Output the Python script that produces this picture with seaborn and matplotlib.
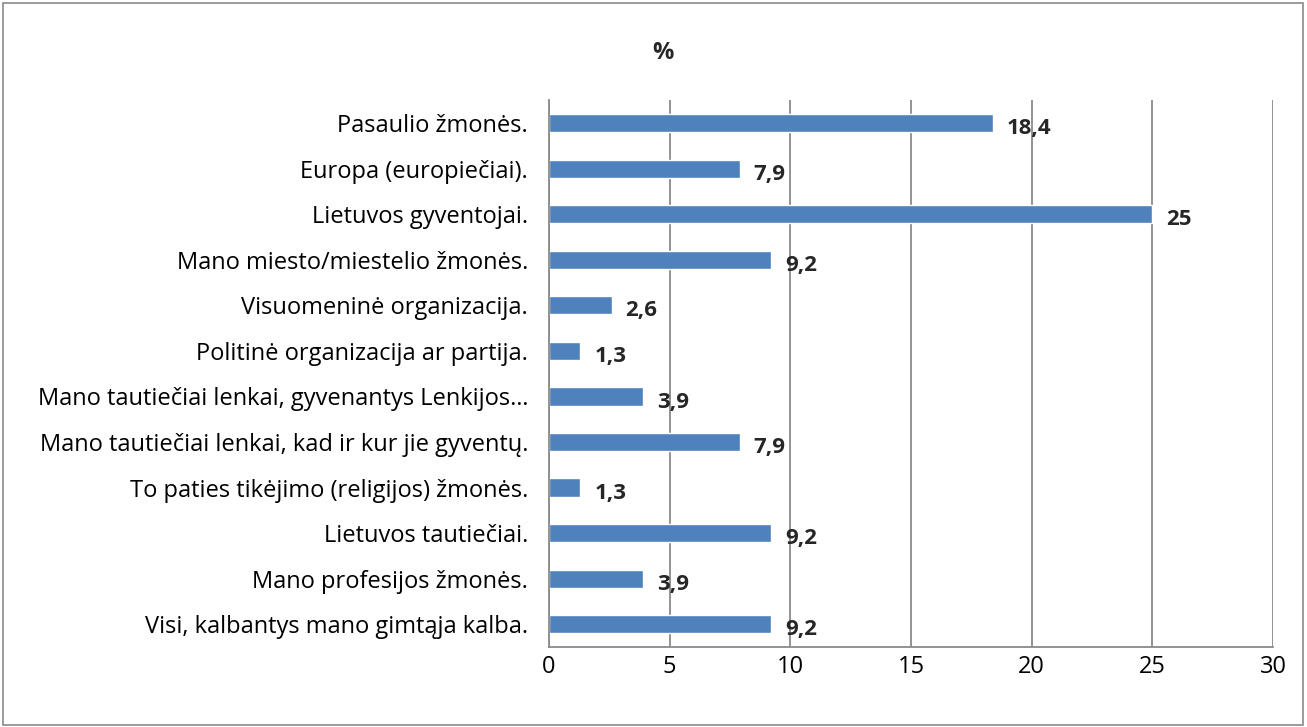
import pandas as pd
import matplotlib.pyplot as plt
import seaborn as sns
from matplotlib.patches import Rectangle

# data (top to bottom)
categories = [
    "Pasaulio žmonės.",
    "Europa (europiečiai).",
    "Lietuvos gyventojai.",
    "Mano miesto/miestelio žmonės.",
    "Visuomeninė organizacija.",
    "Politinė organizacija ar partija.",
    "Mano tautiečiai lenkai, gyvenantys Lenkijos…",
    "Mano tautiečiai lenkai, kad ir kur jie gyventų.",
    "To paties tikėjimo (religijos) žmonės.",
    "Lietuvos tautiečiai.",
    "Mano profesijos žmonės.",
    "Visi, kalbantys mano gimtąja kalba.",
]
values = [18.4, 7.9, 25, 9.2, 2.6, 1.3, 3.9, 7.9, 1.3, 9.2, 3.9, 9.2]
value_labels = ["18,4", "7,9", "25", "9,2", "2,6", "1,3", "3,9", "7,9", "1,3", "9,2", "3,9", "9,2"]

df = pd.DataFrame({"cat": categories, "val": values})

sns.set_theme(style="white")
plt.rcParams['font.family'] = ['Open Sans', 'DejaVu Sans']

fig = plt.figure(figsize=(13.07, 7.27), dpi=100)
ax = fig.add_axes([0.42, 0.110, 0.554, 0.752])

sns.barplot(data=df, x="val", y="cat", color="#4F81BD", width=0.4,
            saturation=1, ax=ax)

ax.set_xlim(0, 30)
ax.set_xticks(range(0, 31, 5))
ax.set_ylim(11.5, -0.5)
ax.xaxis.grid(True, color="#8a8a8a", linewidth=1.3)
ax.set_axisbelow(True)
ax.set_xlabel("")
ax.set_ylabel("")

for s in ["top", "right"]:
    ax.spines[s].set_visible(False)
for s in ["left", "bottom"]:
    ax.spines[s].set_color("#8a8a8a")
    ax.spines[s].set_linewidth(1.3)

ax.tick_params(axis="x", labelsize=17, pad=6, length=0, colors="black")
ax.tick_params(axis="y", labelsize=17, pad=15, length=0, colors="black")

for i, (v, lab) in enumerate(zip(values, value_labels)):
    ax.annotate(lab, xy=(v, i), xytext=(10, -4), textcoords="offset points",
                va="center", ha="left", fontsize=16, fontweight="bold")

fig.text(0.507, 0.927, "%", ha="center", va="center", fontsize=17, fontweight="bold")

fig.patches.append(Rectangle((0.002, 0.003), 0.995, 0.993, transform=fig.transFigure,
                             fill=False, edgecolor="#8a8a8a", linewidth=1.2))

fig.savefig("out.png", dpi=100)
